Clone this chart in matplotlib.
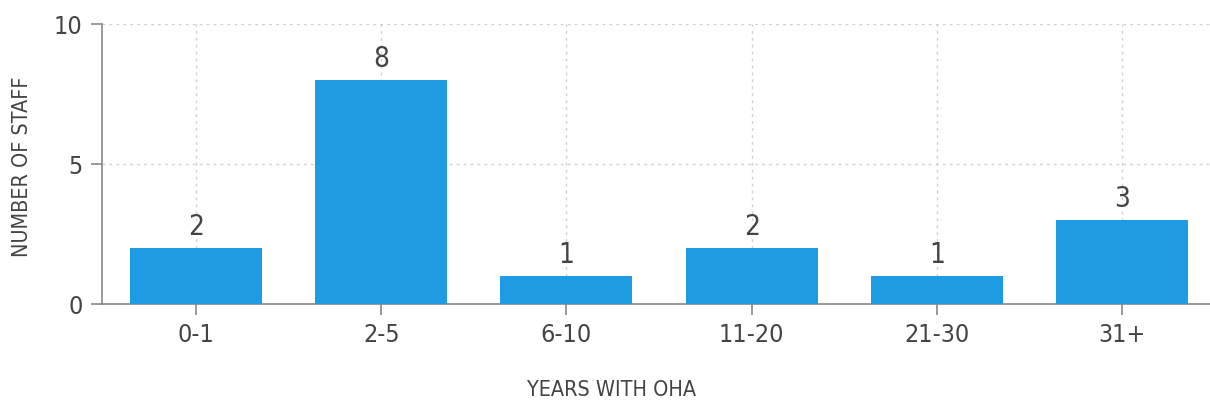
import matplotlib
matplotlib.use("Agg")
import matplotlib.pyplot as plt

categories = ["0-1", "2-5", "6-10", "11-20", "21-30", "31+"]
staff = [2, 8, 1, 2, 1, 3]

BAR = "#1e9be3"
TXT = "#444444"
AX = "#888888"
plt.rcParams["font.family"] = ["DejaVu Sans"]
plt.rcParams["font.stretch"] = "condensed"

fig = plt.figure(figsize=(12.1, 4.09), dpi=100)
ax = fig.add_axes([102 / 1210, 1 - 304 / 409, 1 - 102 / 1210, 280 / 409])

x = list(range(len(categories)))
ax.bar(x, staff, width=0.713, color=BAR, zorder=3)
for xi, v in zip(x, staff):
    ax.text(xi, v + 0.25, str(v), ha="center", va="bottom",
            fontsize=20, color=TXT, zorder=4)

ax.set_xlim(-0.508, 5.475)
ax.set_ylim(0, 10)
ax.set_yticks([0, 5, 10])
ax.set_xticks(x)
ax.set_xticklabels(categories)

ax.grid(True, color="#d0d0d0", linestyle=(0, (2, 3)), linewidth=1, zorder=0)
for side in ["top", "right"]:
    ax.spines[side].set_visible(False)
for side in ["left", "bottom"]:
    ax.spines[side].set_color(AX)
    ax.spines[side].set_linewidth(1.2)
ax.tick_params(axis="both", colors=AX, length=8, width=1.2,
               labelsize=18, labelcolor=TXT, pad=6)

fig.text(22 / 1210, 1 - 167 / 409, "NUMBER OF STAFF", rotation=90,
         ha="center", va="center", fontsize=15.5, color=TXT)
fig.text(612 / 1210, 1 - 390 / 409, "YEARS WITH OHA",
         ha="center", va="center", fontsize=15.5, color=TXT)

fig.savefig("out.png", dpi=100)
